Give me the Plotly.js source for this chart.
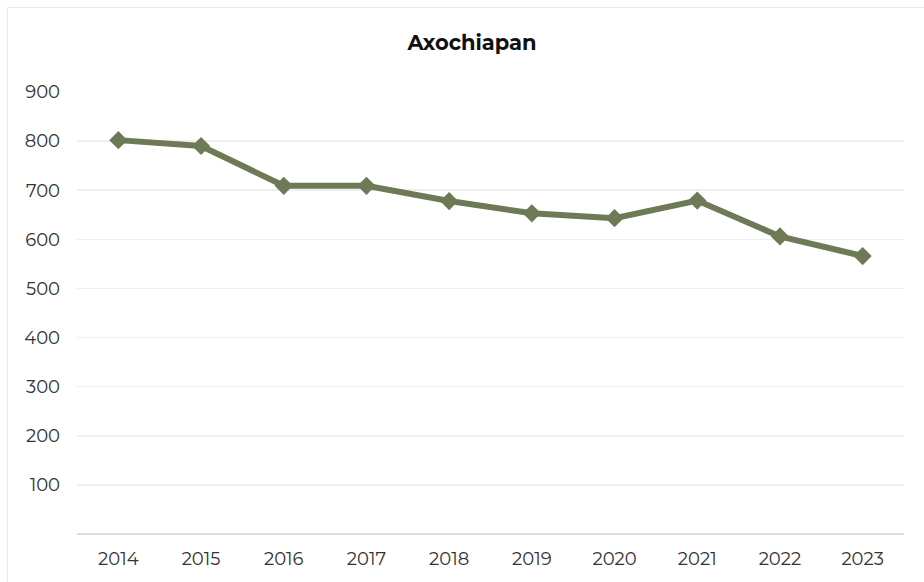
<!DOCTYPE html>
<html><head><meta charset="utf-8">
<script src="https://cdn.plot.ly/plotly-3.0.1.min.js"></script>
<style>
html,body{margin:0;padding:0;background:#fff;overflow:hidden;}
#frame{position:absolute;left:7px;top:7px;width:940px;height:600px;border:1.5px solid #ebebeb;box-sizing:border-box;}
#chart{position:absolute;left:0;top:0;width:924px;height:582px;}
</style></head>
<body>
<div id="frame"></div>
<div id="chart"></div>
<script>
const years = ['2014','2015','2016','2017','2018','2019','2020','2021','2022','2023'];
const values = [802, 790, 709, 709, 678, 653, 643, 679, 606, 566];
const yTicks = [100,200,300,400,500,600,700,800,900];
const titleText = 'Axochiapan';

const font = "Montserrat, 'Open Sans', sans-serif";
Plotly.newPlot('chart', [{
  x: years, y: values, type: 'scatter', mode: 'lines+markers',
  line: {color: '#6e7a55', width: 6},
  marker: {symbol: 'diamond', size: 14, color: '#6e7a55'},
  hoverinfo: 'x+y'
}], {
  width: 924, height: 582,
  margin: {l: 77, r: 20, t: 92, b: 48},
  paper_bgcolor: 'rgba(0,0,0,0)', plot_bgcolor: 'rgba(0,0,0,0)',
  showlegend: false,
  title: {text: '<b>' + titleText + '</b>', x: 472/924, xref: 'container', xanchor: 'center', y: 1 - 43/582, yref: 'container', yanchor: 'middle',
          font: {family: font, size: 21, color: '#111'}},
  xaxis: {type: 'category', range: [-0.5, 9.5], showgrid: false, zeroline: false, showline: false,
          ticks: '', ticklabelstandoff: 12, tickfont: {family: font, size: 18, color: '#333'}},
  yaxis: {range: [0, 900], tickvals: yTicks, ticktext: yTicks.map(String), showgrid: true, gridcolor: '#efefef', gridwidth: 1.5,
          zeroline: true, zerolinecolor: '#dcdcdc', zerolinewidth: 2, showline: false, ticks: '',
          ticklabelstandoff: 16, tickfont: {family: font, size: 18, color: '#333'}}
}, {displayModeBar: false, staticPlot: true});
</script>
</body></html>
